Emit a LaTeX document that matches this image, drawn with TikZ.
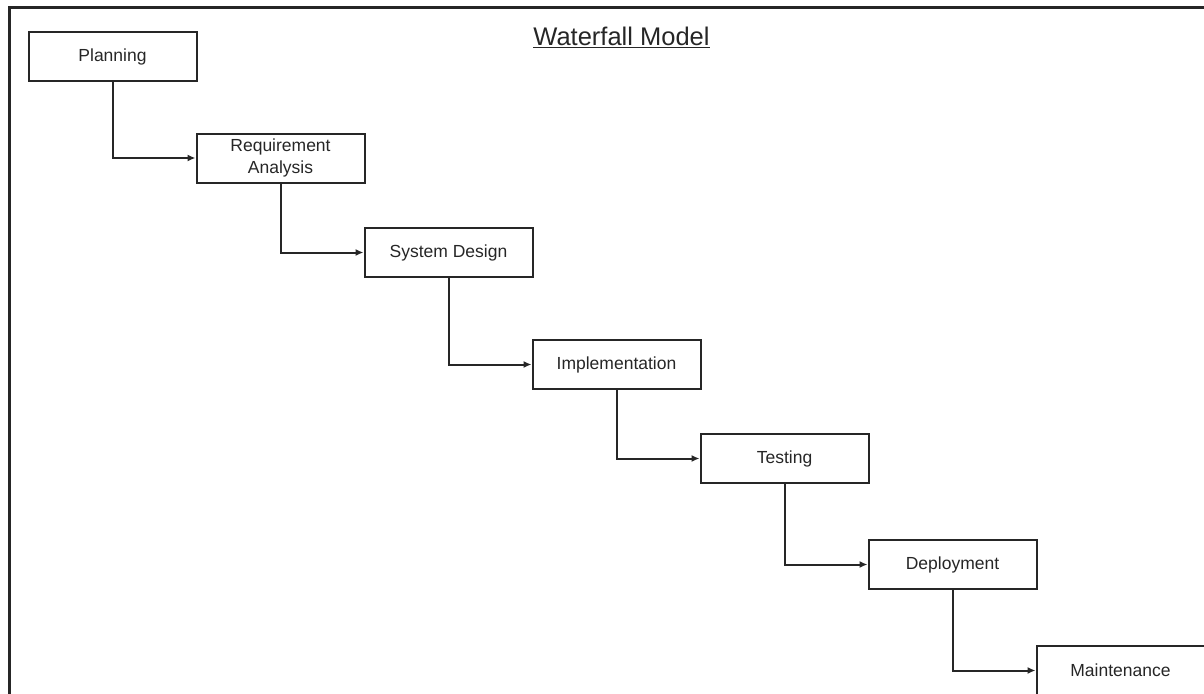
\documentclass[tikz,border=0pt]{standalone}
\usepackage{fontspec}
\setmainfont{Liberation Sans}
\usetikzlibrary{arrows.meta}
\definecolor{ink}{HTML}{262626}
\tikzset{
  stage/.style={draw=ink, line width=2pt, rectangle, minimum width=168pt, minimum height=49pt,
    inner sep=0pt, align=center, text=ink, font=\fontsize{17.5}{21.5}\selectfont},
  flow/.style={draw=ink, line width=2pt, -{Latex[length=8pt,width=7pt]}},
}
\begin{document}
\begin{tikzpicture}[x=1pt,y=-1pt]
\useasboundingbox (0,0) rectangle (1204,693);
\begin{scope}
\clip (0,0) rectangle (1204,693);
\draw[ink, line width=3pt] (9,8) rectangle (1260,760);
\node[stage] (plan) at (112.5,56.5) {Planning};
\node[stage] (req) at (280.5,158) {Requirement\\Analysis};
\node[stage] (sd) at (448.5,252.5) {System Design};
\node[stage] (impl) at (616.5,364.5) {Implementation};
\node[stage] (test) at (784.5,458.5) {Testing};
\node[stage] (dep) at (952.5,564.5) {Deployment};
\node[stage] (maint) at (1120.5,670.5) {Maintenance};
\node[text=ink, font=\fontsize{25.5}{30}\selectfont] (title) at (621.5,37) {\underline{Waterfall Model}};
\draw[flow] (plan.south) |- (req.west);
\draw[flow] (req.south) |- (sd.west);
\draw[flow] (sd.south) |- (impl.west);
\draw[flow] (impl.south) |- (test.west);
\draw[flow] (test.south) |- (dep.west);
\draw[flow] (dep.south) |- (maint.west);
\end{scope}
\end{tikzpicture}
\end{document}
